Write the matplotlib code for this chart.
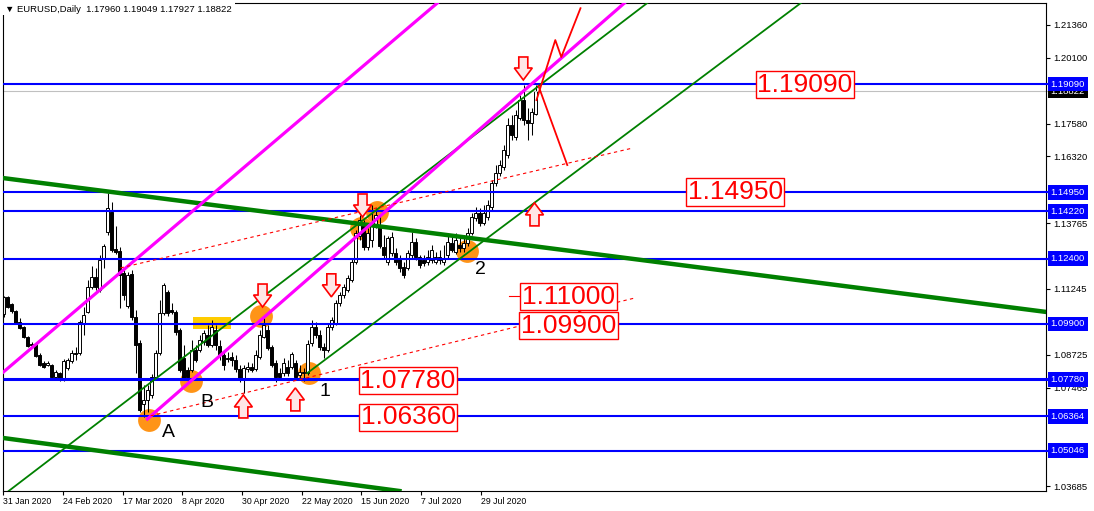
import matplotlib
matplotlib.use('Agg')
import matplotlib.pyplot as plt
from matplotlib.patches import Rectangle, Polygon
import numpy as np

# daily candles, EURUSD
opens = [1.1028, 1.1093, 1.1067, 1.1040, 1.0998, 1.0979, 1.0940, 1.0913, 1.0913, 1.0871,
	1.0841, 1.0833, 1.0833, 1.0787, 1.0802, 1.0779, 1.0822, 1.0848, 1.0879, 1.0879,
	1.0994, 1.1036, 1.1132, 1.1170, 1.1120, 1.1239, 1.1342, 1.1419, 1.1277, 1.1270,
	1.1185, 1.1059, 1.1182, 1.1017, 1.0917, 1.0684, 1.0699, 1.0718, 1.0787, 1.0879,
	1.1032, 1.1112, 1.1044, 1.1036, 1.0967, 1.0860, 1.0814, 1.0814, 1.0891, 1.0891,
	1.0921, 1.0948, 1.0910, 1.0967, 1.0906, 1.0871, 1.0860, 1.0864, 1.0852, 1.0818,
	1.0776, 1.0818, 1.0825, 1.0818, 1.0864, 1.0940, 1.0967, 1.0902, 1.0841, 1.0802,
	1.0802, 1.0825, 1.0825, 1.0841, 1.0795, 1.0802, 1.0802, 1.0917, 1.0979, 1.0948,
	1.0902, 1.0891, 1.0979, 1.0994, 1.1070, 1.1101, 1.1120, 1.1159, 1.1227, 1.1327,
	1.1369, 1.1285, 1.1312, 1.1369, 1.1362, 1.1285, 1.1227, 1.1262, 1.1262, 1.1243,
	1.1208, 1.1205, 1.1254, 1.1304, 1.1247, 1.1235, 1.1227, 1.1235, 1.1227, 1.1247,
	1.1227, 1.1254, 1.1300, 1.1266, 1.1293, 1.1281, 1.1300, 1.1338, 1.1396, 1.1415,
	1.1377, 1.1400, 1.1438, 1.1530, 1.1568, 1.1591, 1.1637, 1.1752, 1.1706, 1.1779,
	1.1848, 1.1771, 1.1760, 1.17960]
highs = [1.1097, 1.1097, 1.1070, 1.1044, 1.1013, 1.0983, 1.0944, 1.0921, 1.0921, 1.0879,
	1.0848, 1.0848, 1.0837, 1.0814, 1.0806, 1.0856, 1.0860, 1.0891, 1.0902, 1.1005,
	1.1055, 1.1159, 1.1212, 1.1205, 1.1255, 1.1297, 1.1492, 1.1457, 1.1365, 1.1285,
	1.1205, 1.1189, 1.1197, 1.1044, 1.0929, 1.0757, 1.0757, 1.0799, 1.0891, 1.1082,
	1.1147, 1.1120, 1.1070, 1.1044, 1.0975, 1.0910, 1.0825, 1.0929, 1.0910, 1.0948,
	1.0967, 1.0986, 1.1005, 1.0986, 1.0929, 1.0891, 1.0883, 1.0883, 1.0871, 1.0833,
	1.0833, 1.0844, 1.0841, 1.0891, 1.0967, 1.1021, 1.0986, 1.0910, 1.0852, 1.0822,
	1.0860, 1.0852, 1.0883, 1.0852, 1.0833, 1.0822, 1.0929, 1.1005, 1.0998, 1.0967,
	1.0917, 1.0994, 1.1017, 1.1082, 1.1113, 1.1143, 1.1178, 1.1243, 1.1350, 1.1408,
	1.1388, 1.1358, 1.1446, 1.1434, 1.1408, 1.1331, 1.1327, 1.1342, 1.1281, 1.1254,
	1.1228, 1.1274, 1.1342, 1.1320, 1.1254, 1.1254, 1.1274, 1.1293, 1.1266, 1.1274,
	1.1293, 1.1327, 1.1327, 1.1339, 1.1320, 1.1331, 1.1358, 1.1415, 1.1438, 1.1434,
	1.1446, 1.1465, 1.1542, 1.1599, 1.1618, 1.1676, 1.1779, 1.1790, 1.1810, 1.1867,
	1.1905, 1.1817, 1.1817, 1.19049]
lows = [1.1017, 1.1051, 1.1032, 1.0990, 1.0971, 1.0936, 1.0902, 1.0898, 1.0864, 1.0829,
	1.0822, 1.0829, 1.0779, 1.0783, 1.0772, 1.0772, 1.0814, 1.0841, 1.0852, 1.0871,
	1.0948, 1.1032, 1.1124, 1.1120, 1.1113, 1.1205, 1.1331, 1.1266, 1.1258, 1.1051,
	1.1082, 1.1051, 1.1005, 1.0802, 1.0653, 1.0634, 1.0653, 1.0707, 1.0776, 1.0871,
	1.1025, 1.1021, 1.1028, 1.0948, 1.0806, 1.0776, 1.0772, 1.0806, 1.0844, 1.0883,
	1.0910, 1.0902, 1.0902, 1.0891, 1.0852, 1.0814, 1.0844, 1.0829, 1.0806, 1.0768,
	1.0726, 1.0806, 1.0806, 1.0810, 1.0856, 1.0936, 1.0891, 1.0825, 1.0768, 1.0783,
	1.0791, 1.0791, 1.0818, 1.0776, 1.0776, 1.0772, 1.0795, 1.0906, 1.0936, 1.0891,
	1.0860, 1.0883, 1.0967, 1.0986, 1.1059, 1.1090, 1.1113, 1.1151, 1.1220, 1.1312,
	1.1274, 1.1274, 1.1285, 1.1358, 1.1281, 1.1243, 1.1216, 1.1251, 1.1216, 1.1189,
	1.1166, 1.1197, 1.1243, 1.1235, 1.1205, 1.1212, 1.1216, 1.1224, 1.1220, 1.1220,
	1.1216, 1.1243, 1.1266, 1.1258, 1.1266, 1.1266, 1.1289, 1.1331, 1.1384, 1.1365,
	1.1369, 1.1388, 1.1427, 1.1519, 1.1557, 1.1580, 1.1626, 1.1695, 1.1695, 1.1771,
	1.1752, 1.1695, 1.1714, 1.17927]
closes = [1.1093, 1.1055, 1.1040, 1.0994, 1.0975, 1.0940, 1.0906, 1.0910, 1.0868, 1.0833,
	1.0825, 1.0841, 1.0787, 1.0806, 1.0776, 1.0848, 1.0852, 1.0879, 1.0875, 1.0998,
	1.1025, 1.1132, 1.1170, 1.1132, 1.1235, 1.1289, 1.1434, 1.1274, 1.1266, 1.1178,
	1.1101, 1.1178, 1.1017, 1.0910, 1.0661, 1.0699, 1.0737, 1.0787, 1.0879, 1.1032,
	1.1139, 1.1032, 1.1036, 1.0960, 1.0814, 1.0783, 1.0787, 1.0891, 1.0852, 1.0929,
	1.0956, 1.0910, 1.0979, 1.0910, 1.0871, 1.0833, 1.0856, 1.0852, 1.0818, 1.0776,
	1.0822, 1.0825, 1.0814, 1.0871, 1.0948, 1.0986, 1.0898, 1.0833, 1.0787, 1.0787,
	1.0841, 1.0802, 1.0875, 1.0787, 1.0806, 1.0806, 1.0913, 1.0979, 1.0948, 1.0902,
	1.0891, 1.0979, 1.1005, 1.1070, 1.1101, 1.1132, 1.1166, 1.1227, 1.1338, 1.1388,
	1.1285, 1.1338, 1.1369, 1.1408, 1.1289, 1.1254, 1.1320, 1.1323, 1.1227, 1.1205,
	1.1178, 1.1262, 1.1304, 1.1247, 1.1216, 1.1224, 1.1247, 1.1274, 1.1247, 1.1235,
	1.1243, 1.1304, 1.1274, 1.1312, 1.1281, 1.1300, 1.1338, 1.1400, 1.1415, 1.1377,
	1.1415, 1.1446, 1.1530, 1.1568, 1.1599, 1.1656, 1.1752, 1.1714, 1.1790, 1.1848,
	1.1771, 1.1760, 1.1802, 1.18822]

date_labels = ['31 Jan 2020', '24 Feb 2020', '17 Mar 2020', '8 Apr 2020', '30 Apr 2020',
	'22 May 2020', '15 Jun 2020', '7 Jul 2020', '29 Jul 2020']
axis_prices = [1.21360, 1.20100, 1.17580, 1.16320, 1.13765, 1.11245, 1.08725, 1.07465, 1.03685]
level_prices = [1.19090, 1.14950, 1.14220, 1.12400, 1.09900, 1.07780, 1.06364, 1.05046]
current_price = 1.18822
header = 'EURUSD,Daily  1.17960 1.19049 1.17927 1.18822'

# drawn objects (bar index, price)
long_lines = [[(-0.1, 1.1549), (260.7, 1.1036)], [(-0.1, 1.0553), (96.0, 1.0356)]]
channel_green = [[(21.2, 1.0584), (160.9, 1.2220)], [(75.9, 1.0802), (200.0, 1.2228)]]
channel_magenta = [[(-0.1, 1.0806), (108.4, 1.2220)], [(35.9, 1.0626), (155.2, 1.2220)]]
dashed_red = [[(36.7, 1.0638), (157.9, 1.1090)], [(29.2, 1.1205), (157.2, 1.1664)]]
red_path_down = [(133.7, 1.1902), (140.9, 1.1599)]
red_path_up = [(133.2, 1.1848), (137.9, 1.2078), (139.4, 1.2013), (144.2, 1.2200)]
dot_bars = [36.2, 46.7, 64.4, 76.4, 89.4, 93.4, 115.7]
dot_prices = [1.0622, 1.0772, 1.1021, 1.0802, 1.1358, 1.1419, 1.1270]
point_names = ['A', 'B', '1', '2']
point_bars = [41.2, 50.7, 80.2, 119.2]
point_prices = [1.0576, 1.0691, 1.0733, 1.1197]
zone = (47.2, 56.9, 1.0971, 1.1017)
arrow_bars = [129.9, 89.7, 64.7, 81.9, 59.9, 72.9, 132.7]
arrow_tips = [1.1925, 1.1400, 1.1055, 1.1094, 1.0718, 1.0745, 1.1454]
arrow_up = [False, False, False, False, True, True, True]
box_labels = ['1.19090', '1.14950', '1.11000', '1.09900', '1.07780', '1.06360']
box_bars = [200.3, 182.9, 141.2, 141.2, 101.1, 101.1]
box_prices = [1.1907, 1.1496, 1.1095, 1.0984, 1.0772, 1.0632]

plt.rcParams['font.family'] = ['Liberation Sans', 'DejaVu Sans']

W, H = 1094, 511
fig = plt.figure(figsize=(W / 100, H / 100), dpi=100)
ax = fig.add_axes([3 / W, 20 / H, 1043 / W, 488 / H])
ax.set_xlim(-0.2, 260.6)
ax.set_ylim(1.0350, 1.2220)
for s in ax.spines.values():
	s.set_linewidth(0.8)

n = len(opens)
x = np.arange(n)
o = np.array(opens); c = np.array(closes)
bull = c >= o

# background objects
ax.scatter(dot_bars, dot_prices, s=270, color='#FF9417', zorder=1, linewidths=0)
ax.add_patch(Rectangle((zone[0], zone[2]), zone[1] - zone[0], zone[3] - zone[2],
	color='#FFCC00', zorder=1, lw=0))

# candles
ax.vlines(x, lows, highs, color='black', lw=0.75, zorder=2)
ax.bar(x, np.abs(c - o), bottom=np.minimum(o, c), width=0.66,
	color=np.where(bull, 'white', 'black'), edgecolor='black', linewidth=0.7, zorder=2)

# levels
for p in level_prices:
	lw = 2.2 if p == 1.07780 else 1.5
	ax.plot([0, 1.005], [p, p], transform=ax.get_yaxis_transform(), color='#0000FF',
		lw=lw, zorder=3, clip_on=False, solid_capstyle='butt')
ax.plot([0, 1.005], [current_price] * 2, transform=ax.get_yaxis_transform(), color='#C0C0C0',
	lw=0.8, zorder=2.5, clip_on=False)

for (a, b) in long_lines:
	ax.axline(a, b, color='#008000', lw=3.2, zorder=3)
ax.axline(*channel_green[0], color='#008000', lw=1.3, zorder=3)
gx, gy = zip(*channel_green[1])
ax.plot(gx, gy, color='#008000', lw=1.3, zorder=3)
ax.axline(*channel_magenta[0], color='#FF00FF', lw=2.3, zorder=3)
mx, my = zip(*channel_magenta[1])
ax.plot(mx, my, color='#FF00FF', lw=2.3, zorder=3)
for seg in dashed_red:
	dx, dy = zip(*seg)
	ax.plot(dx, dy, color='#FF0000', lw=0.8, ls=(0, (3, 3)), zorder=3)
for path in (red_path_down, red_path_up):
	rx, ry = zip(*path)
	ax.plot(rx, ry, color='#FF0000', lw=1.3, zorder=3)
ax.plot([126.2, 128.7], [1.1097, 1.1097], color='#FF0000', lw=0.8, zorder=3)

# arrows, built in pixel units
t0 = ax.transData.transform((0, 0))
sx = ax.transData.transform((1, 0))[0] - t0[0]
sy = ax.transData.transform((0, 1))[1] - t0[1]
shape = np.array([(0, 0), (-9, 12), (-4.5, 12), (-4.5, 23), (4.5, 23), (4.5, 12), (9, 12)])
for b, tip, up in zip(arrow_bars, arrow_tips, arrow_up):
	pts = shape.copy()
	if up:
		pts[:, 1] = -pts[:, 1]
	poly = np.column_stack([b + pts[:, 0] / sx, tip + pts[:, 1] / sy])
	ax.add_patch(Polygon(poly, closed=True, fc='#FFE6E6', ec='#FF0000', lw=1.2, zorder=4))

for name, b, p in zip(point_names, point_bars, point_prices):
	ax.text(b, p, name, fontsize=14, ha='center', va='center', color='black', zorder=4)

for lab, b, p in zip(box_labels, box_bars, box_prices):
	ax.text(b, p, lab, fontsize=19, ha='center', va='center', color='#FF0000', zorder=5,
		bbox=dict(boxstyle='square,pad=0.06', fc='white', ec='#FF0000', lw=1))

# axes ticks
ax.yaxis.tick_right()
ax.set_yticks(axis_prices)
ax.set_yticklabels(['%.5f' % v for v in axis_prices])
ax.tick_params(axis='y', labelsize=6.8, length=3, width=0.8, pad=2)
ax.set_xticks([k * 14.92 - 0.15 for k in range(len(date_labels))])
ax.set_xticklabels(date_labels, ha='left')
ax.tick_params(axis='x', labelsize=6.3, length=3, width=0.8, pad=1)

ytr = ax.get_yaxis_transform()
ax.text(1.0045, current_price, '%.5f' % current_price, transform=ytr, fontsize=6.8, color='white',
	va='center', ha='left', zorder=9, clip_on=False,
	bbox=dict(boxstyle='square,pad=0.3', fc='black', ec='none'))
for p in level_prices:
	ax.text(1.0045, p, '%.5f' % p, transform=ytr, fontsize=6.8, color='white', va='center',
		ha='left', zorder=10, clip_on=False,
		bbox=dict(boxstyle='square,pad=0.3', fc='#0000FF', ec='none'))

fig.patches.append(Rectangle((0, 1 - 15 / H), 235 / W, 15 / H, transform=fig.transFigure,
	fc='white', ec='none', zorder=20))
fig.text(5 / W, 1 - 9 / H, '\u25bc ' + header, fontsize=6.8, va='center', ha='left', zorder=21)

fig.savefig('out.png', dpi=100)
